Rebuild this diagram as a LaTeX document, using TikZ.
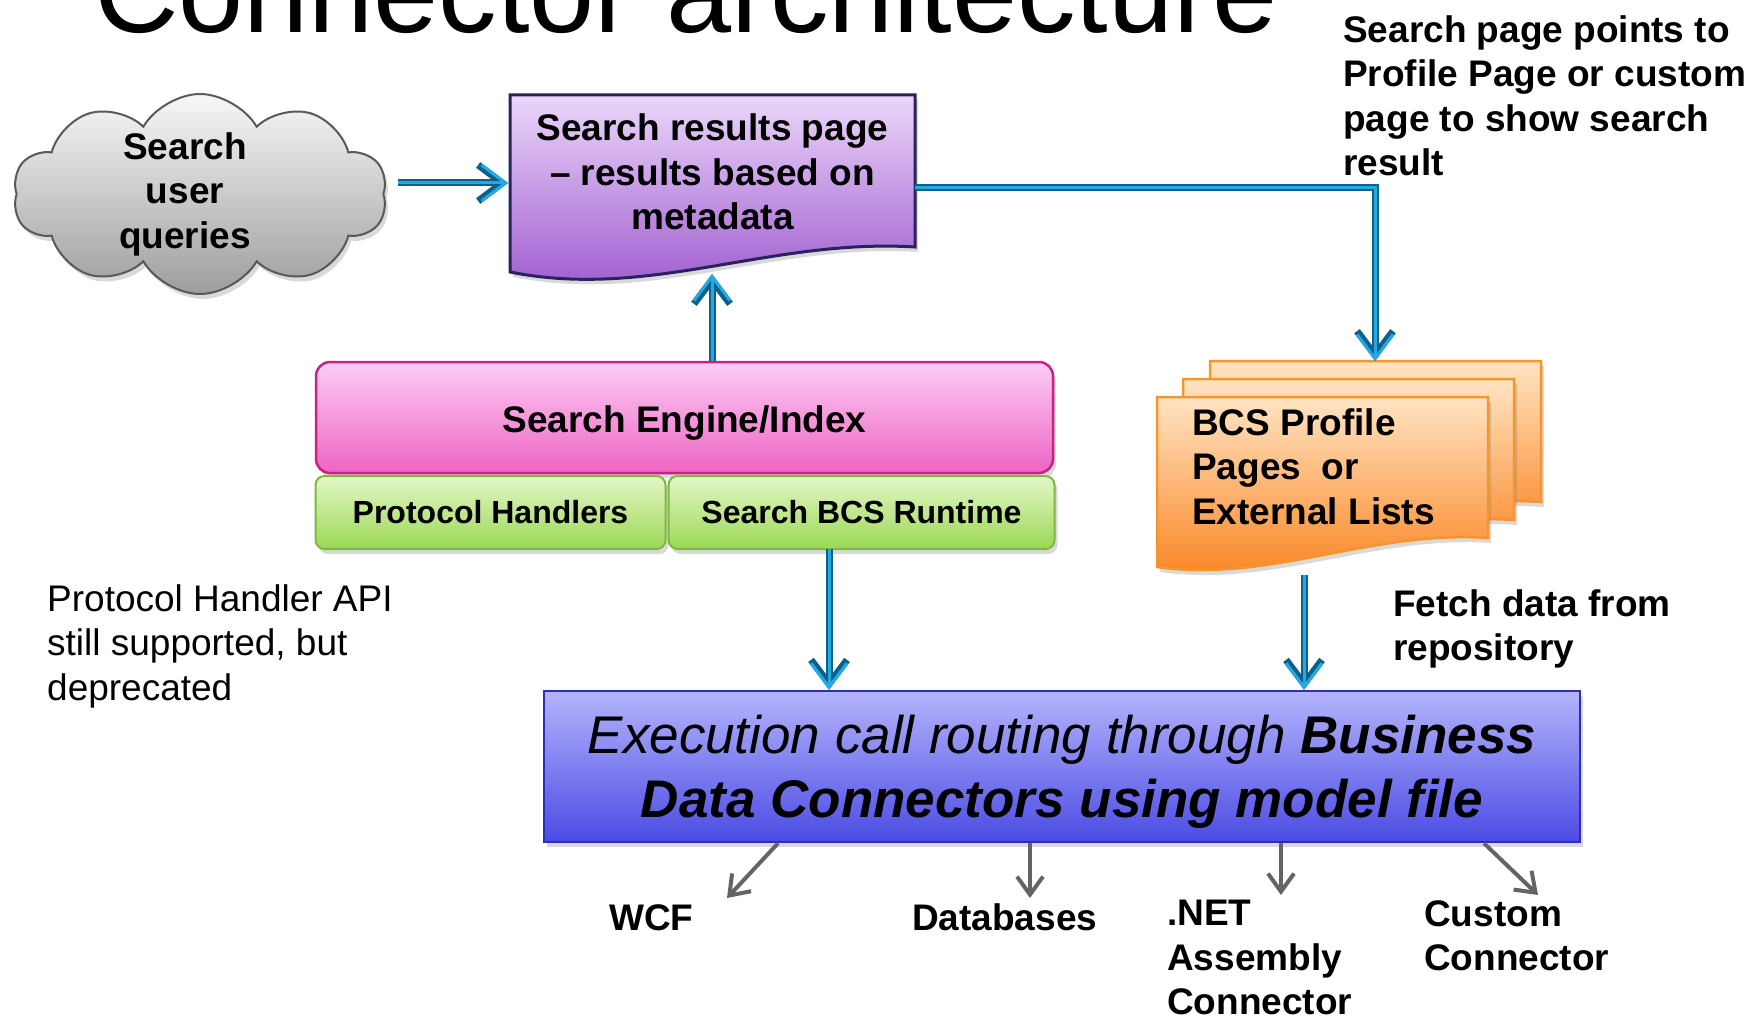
\documentclass[tikz,border=0pt]{standalone}
\usepackage{fontspec}
\setmainfont{Liberation Sans}
\usetikzlibrary{arrows.meta,shapes.symbols,shadows}

\definecolor{flowblue}{RGB}{35,170,225}
\definecolor{flowdark}{RGB}{15,95,140}
\definecolor{fangray}{RGB}{100,100,100}
\definecolor{pagetop}{RGB}{235,215,250}
\definecolor{pagebot}{RGB}{155,85,205}
\definecolor{pageedge}{RGB}{40,35,95}
\definecolor{enginetop}{RGB}{253,205,245}
\definecolor{enginebot}{RGB}{238,100,195}
\definecolor{engineedge}{RGB}{200,35,130}
\definecolor{handlertop}{RGB}{228,247,200}
\definecolor{handlerbot}{RGB}{155,215,85}
\definecolor{handleredge}{RGB}{125,185,65}
\definecolor{profiletop}{RGB}{255,228,195}
\definecolor{profilebot}{RGB}{250,130,30}
\definecolor{profileedge}{RGB}{245,150,45}
\definecolor{exectop}{RGB}{180,180,252}
\definecolor{execbot}{RGB}{75,75,228}
\definecolor{execedge}{RGB}{45,45,185}

\newcommand{\txtbig}{\fontsize{37}{44.5}\selectfont}
\newcommand{\txtsmall}{\fontsize{32}{38}\selectfont}
\newcommand{\txtexec}{\fontsize{53}{64}\selectfont}
\newcommand{\txttitle}{\fontsize{117}{130}\selectfont}

\begin{document}
\begin{tikzpicture}[x=1pt,y=1pt,yscale=-1,
  flow/.style={draw=flowdark, line width=7pt, -{Straight Barb[length=24pt,width=36pt]},
    postaction={draw=flowblue, line width=3pt, -{Straight Barb[length=24pt,width=36pt]}}},
  fanout/.style={draw=fangray, line width=4pt, -{Straight Barb[length=18pt,width=26pt]}},
  softshadow/.style={drop shadow={opacity=0.3, shadow xshift=3pt, shadow yshift=-5pt}},
  textbold/.style={inner sep=0pt, font=\txtbig\bfseries, align=left},
  textplain/.style={inner sep=0pt, font=\txtbig, align=left},
  pagefill/.style={draw=pageedge, line width=3pt, top color=pagetop, bottom color=pagebot, softshadow},
  profilefill/.style={draw=profileedge, line width=2.5pt, top color=profiletop, bottom color=profilebot, softshadow},
  enginebox/.style={draw=engineedge, line width=2.5pt, rounded corners=14pt, top color=enginetop, bottom color=enginebot, softshadow, font=\txtbig\bfseries, text height=29pt, text depth=0pt},
  handlerbox/.style={draw=handleredge, line width=2pt, rounded corners=9pt, top color=handlertop, bottom color=handlerbot, softshadow, minimum height=73pt, font=\txtsmall\bfseries},
  execbox/.style={draw=execedge, line width=2.5pt, top color=exectop, bottom color=execbot, softshadow, align=center, font=\txtexec\itshape, text depth=0pt},
  cloudbox/.style={cloud, cloud puffs=10, cloud puff arc=120, aspect=1.9, draw=black!65, line width=2pt, top color=black!3, bottom color=black!38, softshadow, minimum width=374pt, minimum height=200pt},
]
\useasboundingbox (0,0) rectangle (1750,1019);

% title, runs off the top edge
\node[anchor=base west, inner sep=0pt, font=\txttitle] (title) at (94,33) {Connector architecture};

% page shapes
\path[pagefill] (510,95) -- (915,95) -- (915,247) .. controls (770,238) and (650,300) .. (510,272) -- cycle;
\foreach \dx/\dy in {53/-36, 26/-18, 0/0}
  \path[profilefill, shift={(\dx,\dy)}] (1157,397) -- (1488,397) -- (1488,538) .. controls (1370,530) and (1271,583) .. (1157,567) -- cycle;

% boxes
\node[cloudbox] (queries) at (200,194) {};
\node[textbold, align=center] (querytext) at (185,194) {Search\\user\\queries};
\node[inner sep=0pt, minimum width=405pt, minimum height=152pt, font=\txtbig\bfseries, align=center] (results) at (712.5,172) {Search results page\\– results based on\\metadata};
\node[enginebox, minimum width=737pt, minimum height=111pt] (engine) at (684.5,417.5) {Search Engine/Index};
\node[handlerbox, minimum width=350pt] (handlers) at (490.5,512.5) {Protocol Handlers};
\node[handlerbox, minimum width=386pt] (runtime) at (861.5,512.5) {Search BCS Runtime};
\node[textbold, anchor=north west] (profiles) at (1192,408) {BCS Profile\\Pages\ \ or\\External Lists};
\node[execbox, minimum width=1036pt, minimum height=151pt] (exec) at (1062,766.5) {Execution call routing through \textbf{Business}\\\textbf{Data Connectors using model file}};

% notes
\node[textbold, anchor=north west] (pointnote) at (1343,15) {Search page points to\\Profile Page or custom\\page to show search\\result};
\node[textbold, anchor=north west] (fetchnote) at (1393,589) {Fetch data from\\repository};
\node[textplain, anchor=north west] (apinote) at (47,584) {Protocol Handler API\\still supported, but\\deprecated};

% connector kinds
\node[textbold, anchor=base west] (wcf) at (609,930) {WCF};
\node[textbold, anchor=base west] (databases) at (912,930) {Databases};
\node[textbold, anchor=north west] (assembly) at (1167,900) {.NET\\Assembly\\Connector};
\node[textbold, anchor=north west] (custom) at (1424,900) {Custom\\Connector};

% flows
\coordinate (queryin) at (508,183);
\coordinate (pagewave) at (712,274);
\coordinate (stacktop) at (1375,361);
\coordinate (runtimeout) at (829,549);
\coordinate (profileout) at (1304,575);
\draw[flow, shorten <=14pt] (queries.east |- queryin) -- (queryin);
\draw[flow] (engine.north -| pagewave) -- (pagewave);
\draw[flow] (results.east |- 0,188) -| (stacktop);
\draw[flow] (runtimeout) -- (runtimeout |- exec.north);
\draw[flow] (profileout) -- (profileout |- exec.north);

% fan out below the execution box
\coordinate (wcftip) at (727,898);
\coordinate (dbtip) at (1030,898);
\coordinate (nettip) at (1281,895);
\coordinate (customtip) at (1538,895);
\draw[fanout] (exec.south -| 778,0) -- (wcftip);
\draw[fanout] (exec.south -| dbtip) -- (dbtip);
\draw[fanout] (exec.south -| nettip) -- (nettip);
\draw[fanout] (exec.south -| 1484,0) -- (customtip);

\end{tikzpicture}
\end{document}
